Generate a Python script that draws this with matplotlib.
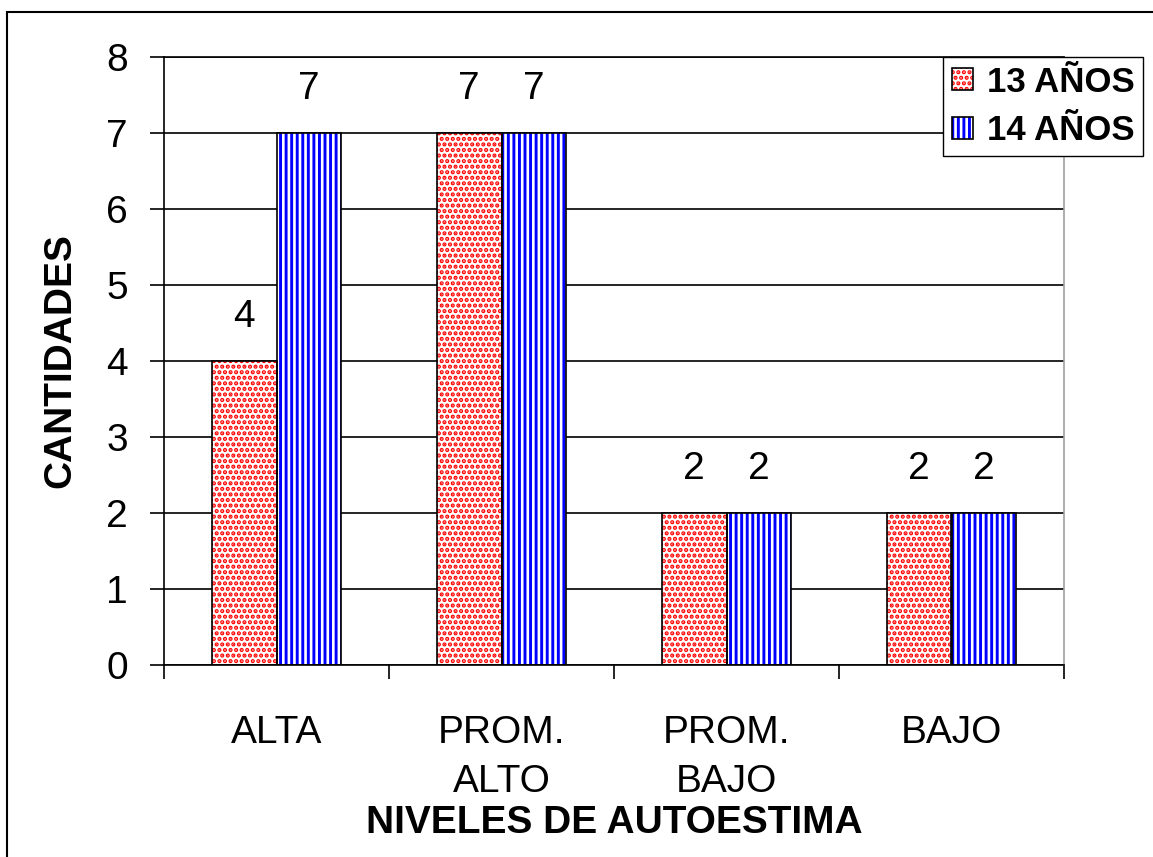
import matplotlib.pyplot as plt
import numpy as np
from matplotlib.patches import Rectangle
from matplotlib.legend_handler import HandlerTuple

# niveles de autoestima por edad
niveles = ['ALTA', 'PROM.\nALTO', 'PROM.\nBAJO', 'BAJO']
edad_13 = [4, 7, 2, 2]
edad_14 = [7, 7, 2, 2]
marcas_y = [0, 1, 2, 3, 4, 5, 6, 7, 8]

plt.rcParams['font.family'] = ['Liberation Sans', 'DejaVu Sans']
plt.rcParams['hatch.linewidth'] = 2.1

W, H = 1153, 857
fig = plt.figure(figsize=(W / 100, H / 100), dpi=100)
ax = fig.add_axes([164 / W, 1 - 665 / H, 900 / W, 608 / H])

x = np.arange(len(niveles))
ancho = 0.288

# relleno con trama y luego el borde negro encima
rel13 = ax.bar(x - ancho / 2, edad_13, ancho, color='white', edgecolor='red',
               hatch='...', linewidth=0, zorder=2)
bor13 = ax.bar(x - ancho / 2, edad_13, ancho, fill=False, edgecolor='black',
               linewidth=1.2, zorder=3)
rel14 = ax.bar(x + ancho / 2, edad_14, ancho, color='white', edgecolor='blue',
               hatch='|||', linewidth=0, zorder=2)
bor14 = ax.bar(x + ancho / 2, edad_14, ancho, fill=False, edgecolor='black',
               linewidth=1.2, zorder=3)

ax.bar_label(bor13, fontsize=28, padding=19)
ax.bar_label(bor14, fontsize=28, padding=19)

ax.set_xlim(-0.5, len(niveles) - 0.5)
ax.set_ylim(0, 8)
ax.set_yticks(marcas_y)
ax.tick_params(axis='y', direction='out', length=10, width=1.2, pad=16, labelsize=28)
ax.set_xticks(x)
ax.set_xticklabels(niveles, fontsize=28, linespacing=1.45)
ax.set_xticks(np.arange(-0.5, len(niveles)), minor=True)
ax.tick_params(axis='x', which='major', length=0, pad=36)
ax.tick_params(axis='x', which='minor', direction='out', length=10, width=1.2)

ax.yaxis.grid(True, color='black', linewidth=1.2)
ax.set_axisbelow(True)
ax.spines['left'].set_linewidth(1.2)
ax.spines['bottom'].set_linewidth(1.2)
ax.spines['top'].set_linewidth(1.2)
ax.spines['right'].set_color('#a0a0a0')
ax.spines['right'].set_linewidth(1.2)

fig.text(60 / W, 1 - 361 / H, 'CANTIDADES', rotation=90, ha='center', va='center',
         fontsize=28, fontweight='bold')
fig.text(614 / W, 1 - 833 / H, 'NIVELES DE AUTOESTIMA', ha='center', va='baseline',
         fontsize=28, fontweight='bold')

leg = ax.legend([(rel13.patches[0], bor13.patches[0]), (rel14.patches[0], bor14.patches[0])],
                ['13 AÑOS', '14 AÑOS'],
                handler_map={tuple: HandlerTuple(ndivide=1)},
                loc='upper right', bbox_to_anchor=(1143 / W, 1 - 57 / H),
                bbox_transform=fig.transFigure, borderaxespad=0,
                prop={'size': 25, 'weight': 'bold'}, handlelength=0.6, handleheight=0.6,
                handletextpad=0.4, borderpad=0.25, labelspacing=0.45,
                fancybox=False, framealpha=1, edgecolor='black')
leg.get_frame().set_linewidth(1.0)

# marco exterior
fig.add_artist(Rectangle((7 / W, -0.1), 1.2, (H - 12) / H + 0.1, transform=fig.transFigure,
                         fill=False, edgecolor='black', linewidth=1.5))

fig.savefig('out.png', dpi=100)
